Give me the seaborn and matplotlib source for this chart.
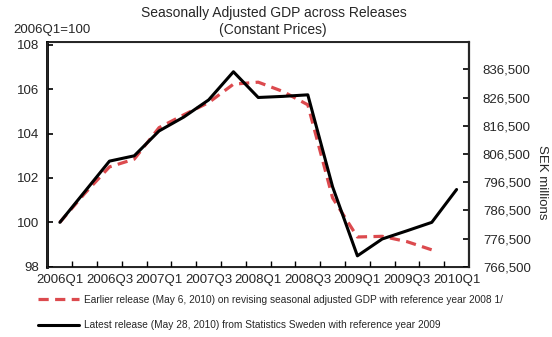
import numpy as np
import pandas as pd
import matplotlib
matplotlib.use("Agg")
import matplotlib.pyplot as plt
import seaborn as sns

# Quarterly index values, 2006Q1 = 100
quarters = ["2006Q1", "2006Q2", "2006Q3", "2006Q4",
            "2007Q1", "2007Q2", "2007Q3", "2007Q4",
            "2008Q1", "2008Q2", "2008Q3", "2008Q4",
            "2009Q1", "2009Q2", "2009Q3", "2009Q4",
            "2010Q1"]
earlier_release = [100.0, 101.3, 102.5, 102.85,
                   104.27, 104.85, 105.4, 106.23,
                   106.32, 105.9, 105.3, 101.1,
                   99.34, 99.37, 99.13, 98.76,
                   np.nan]
latest_release = [100.0, 101.38, 102.76, 103.0,
                  104.12, 104.75, 105.52, 106.79,
                  105.63, 105.68, 105.75, 101.6,
                  98.49, 99.25, 99.62, 100.0,
                  101.48]

left_ticks = [98, 100, 102, 104, 106, 108]
right_ticks = [766500, 776500, 786500, 796500, 806500, 816500, 826500, 836500]

label_earlier = ("Earlier release (May 6, 2010) on revising seasonal adjusted GDP "
                 "with reference year 2008 1/")
label_latest = "Latest release (May 28, 2010) from Statistics Sweden with reference year 2009"

sns.set_style("white")
plt.rcParams["font.family"] = ["Liberation Sans", "DejaVu Sans"]

df = pd.DataFrame({
    "pos": np.arange(len(quarters)),
    "quarter": quarters,
    "earlier": earlier_release,
    "latest": latest_release,
})

fig = plt.figure(figsize=(5.52, 3.37), dpi=100)
ax = fig.add_axes([0.086, 0.2086, 0.7636, 0.666])

sns.lineplot(data=df, x="pos", y="earlier", ax=ax, color="#DC4A4E",
             linewidth=2.3, dashes=False, label=label_earlier)
ax.lines[-1].set_dashes([3.2, 2.0])
sns.lineplot(data=df, x="pos", y="latest", ax=ax, color="black",
             linewidth=2.2, label=label_latest)

ax.set_xlim(-0.5, len(quarters) - 0.5)
ax.set_ylim(98, 108.12)
ax.set_yticks(left_ticks)
ax.set_yticklabels([str(t) for t in left_ticks], fontsize=9.5)
ax.set_xticks(df["pos"][::2])
ax.set_xticklabels(df["quarter"][::2], fontsize=9.5)
ax.set_xticks(np.arange(0.5, len(quarters) - 0.5, 1.0), minor=True)
ax.tick_params(axis="x", which="major", length=0, pad=5)
ax.tick_params(axis="x", which="minor", length=4, width=1, direction="in",
               color="black", bottom=True)
ax.tick_params(axis="y", length=4, width=1.2, direction="in", color="black",
               left=True, pad=6)
ax.set_xlabel("")
ax.set_ylabel("")
for side, sp in ax.spines.items():
    sp.set_color("black")
    sp.set_linewidth(1.2)
ax.spines["left"].set_linewidth(2.0)

ax2 = ax.twinx()
ax2.set_ylim(766500, 846100)
ax2.set_yticks(right_ticks)
ax2.set_yticklabels([f"{t:,}" for t in right_ticks], fontsize=9.5)
ax2.tick_params(axis="y", length=4, width=1.2, direction="in", color="black",
                right=True, pad=10)
ax2.spines["right"].set_linewidth(1.6)
ax2.set_ylabel("")

handles, labels = ax.get_legend_handles_labels()
ax.get_legend().remove()
leg = fig.legend(handles, labels, loc="upper left",
                 bbox_to_anchor=(0.062, 0.138), frameon=False,
                 fontsize=7.3, handlelength=4.0, handletextpad=0.5,
                 labelspacing=1.55, borderaxespad=0)

fig.text(0.497, 0.962, "Seasonally Adjusted GDP across Releases",
         ha="center", va="center", fontsize=10)
fig.text(0.494, 0.912, "(Constant Prices)", ha="center", va="center",
         fontsize=10)
fig.text(0.025, 0.91, "2006Q1=100", ha="left", va="center", fontsize=9.5)
fig.text(0.981, 0.46, "SEK millions", ha="center", va="center",
         rotation=270, fontsize=9.5)

fig.savefig("out.png", dpi=100)
